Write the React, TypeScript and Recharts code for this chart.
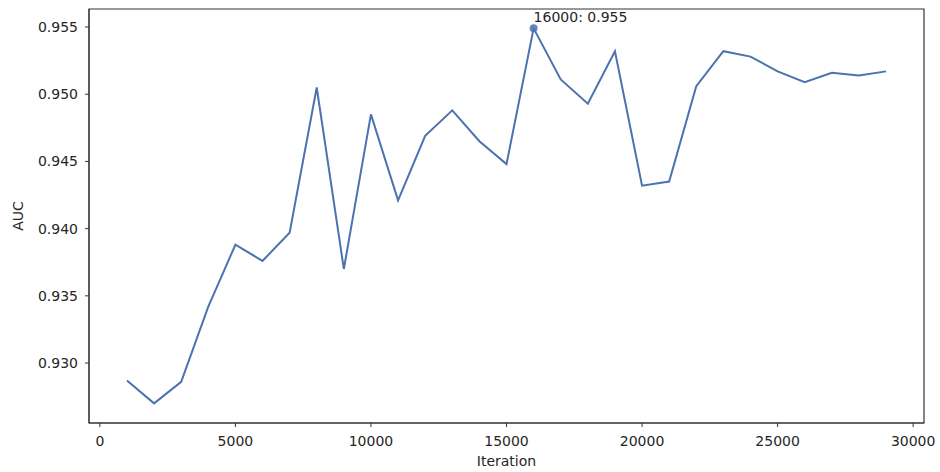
import { LineChart, Line, XAxis, YAxis, ReferenceDot, ReferenceArea } from "recharts";

const iterations = [
  1000, 2000, 3000, 4000, 5000, 6000, 7000, 8000, 9000, 10000, 11000, 12000, 13000, 14000, 15000,
  16000, 17000, 18000, 19000, 20000, 21000, 22000, 23000, 24000, 25000, 26000, 27000, 28000, 29000,
];
const auc = [
  0.9287, 0.927, 0.9286, 0.9342, 0.9388, 0.9376, 0.9397, 0.9505, 0.937, 0.9485, 0.9421, 0.9469,
  0.9488, 0.9465, 0.9448, 0.9549, 0.9511, 0.9493, 0.9532, 0.9432, 0.9435, 0.9506, 0.9532, 0.9528,
  0.9517, 0.9509, 0.9516, 0.9514, 0.9517,
];
const xTicks = [0, 5000, 10000, 15000, 20000, 25000, 30000];
const yTicks = [0.93, 0.935, 0.94, 0.945, 0.95, 0.955];

const data = iterations.map((it, i) => ({ iteration: it, auc: auc[i] }));

// best point gets the dot + annotation
const peak = auc.indexOf(Math.max(...auc));

const X_DOMAIN: [number, number] = [-400, 30400];
const Y_DOMAIN: [number, number] = [0.92554, 0.95634];
const LINE = "#4c72b0";
const INK = "#262626";
const FONT = "'DejaVu Sans', sans-serif";

function PeakMarker(props: any) {
  const { cx, cy } = props;
  return (
    <g>
      <circle cx={cx} cy={cy} r={4} fill={LINE} fillOpacity={0.85} />
      <text x={cx} y={cy - 6} fontSize={14} fill={INK} fontFamily={FONT}>
        {`${iterations[peak]}: ${auc[peak].toFixed(3)}`}
      </text>
    </g>
  );
}

export default function App() {
  const tick = { fontSize: 14, fill: INK, fontFamily: FONT };
  return (
    <div style={{ position: "absolute", left: 0, top: 0, background: "#fff" }}>
      <LineChart width={940} height={472} data={data} margin={{ top: 9, right: 16, bottom: 0, left: 0 }}>
        <ReferenceArea
          x1={X_DOMAIN[0]}
          x2={X_DOMAIN[1]}
          y1={Y_DOMAIN[0]}
          y2={Y_DOMAIN[1]}
          fill="none"
          stroke="#333"
          strokeWidth={1.2}
          ifOverflow="visible"
        />
        <XAxis
          dataKey="iteration"
          type="number"
          domain={X_DOMAIN}
          ticks={xTicks}
          allowDataOverflow
          height={49}
          tickSize={4}
          tickMargin={9}
          stroke="#333"
          tick={tick}
          label={{ value: "Iteration", position: "insideBottom", offset: 6, fontSize: 14, fill: INK, fontFamily: FONT }}
        />
        <YAxis
          type="number"
          domain={Y_DOMAIN}
          ticks={yTicks}
          allowDataOverflow
          width={89}
          tickSize={4}
          tickMargin={7}
          stroke="#333"
          tick={tick}
          tickFormatter={(v: number) => v.toFixed(3)}
          label={{
            value: "AUC",
            angle: -90,
            position: "insideLeft",
            offset: 18,
            style: { textAnchor: "middle" },
            fontSize: 14,
            fill: INK,
            fontFamily: FONT,
          }}
        />
        <Line
          type="linear"
          dataKey="auc"
          stroke={LINE}
          strokeWidth={2}
          dot={false}
          activeDot={false}
          isAnimationActive={false}
        />
        <ReferenceDot x={iterations[peak]} y={auc[peak]} r={4} shape={PeakMarker} ifOverflow="visible" />
      </LineChart>
    </div>
  );
}
